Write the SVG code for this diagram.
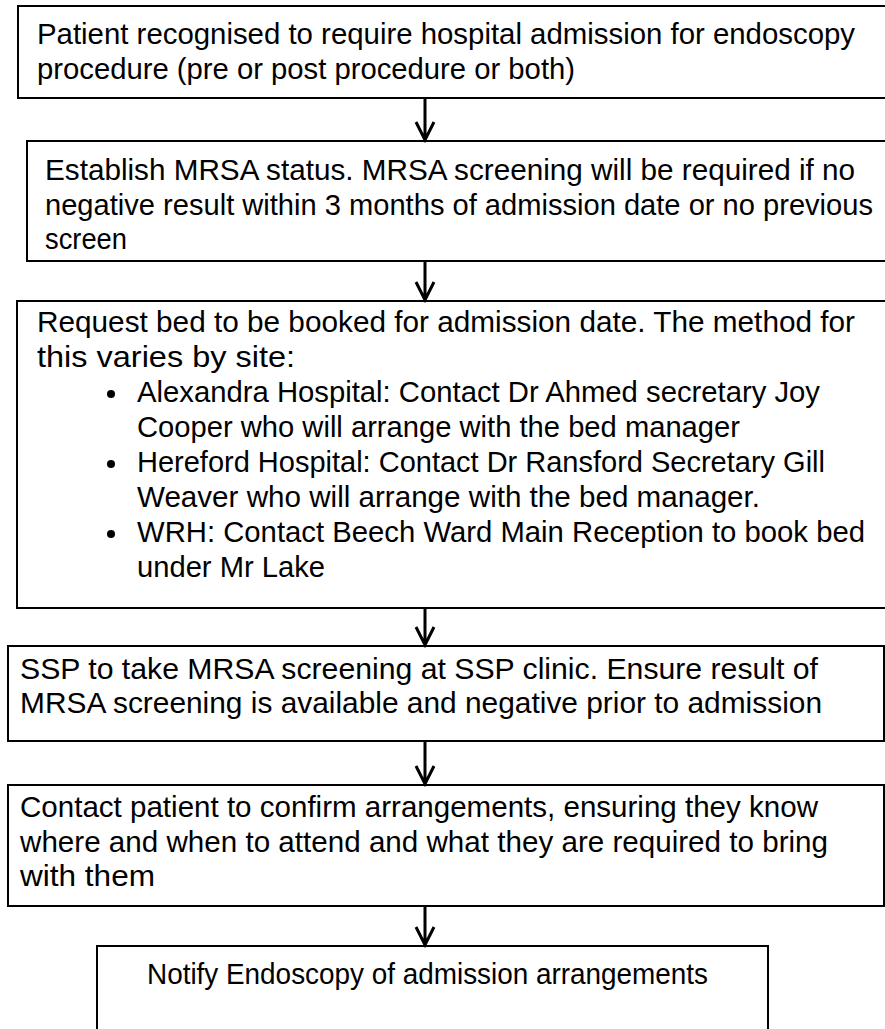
<svg xmlns="http://www.w3.org/2000/svg" width="885" height="1029" viewBox="0 0 885 1029">
<style>
.box{fill:#fff;stroke:#000;stroke-width:2}
.t{font-family:"Liberation Sans",Arial,sans-serif;font-size:30px;fill:#000}
.conn{stroke:#000;stroke-width:3;fill:none}
</style>
<rect width="885" height="1029" fill="#fff"/>
<g id="n1">
<rect class="box" x="18" y="6" width="880" height="92"/>
<text class="t" x="37" y="44" textLength="818" lengthAdjust="spacingAndGlyphs">Patient recognised to require hospital admission for endoscopy</text>
<text class="t" x="37" y="79" textLength="538" lengthAdjust="spacingAndGlyphs">procedure (pre or post procedure or both)</text>
</g>
<g id="n2">
<rect class="box" x="27" y="141" width="870" height="120"/>
<text class="t" x="45" y="180" textLength="810" lengthAdjust="spacingAndGlyphs">Establish MRSA status. MRSA screening will be required if no</text>
<text class="t" x="45" y="215" textLength="828" lengthAdjust="spacingAndGlyphs">negative result within 3 months of admission date or no previous</text>
<text class="t" x="45" y="249" textLength="82" lengthAdjust="spacingAndGlyphs">screen</text>
</g>
<g id="n3">
<rect class="box" x="17" y="301" width="880" height="307"/>
<text class="t" x="37" y="332" textLength="818" lengthAdjust="spacingAndGlyphs">Request bed to be booked for admission date. The method for</text>
<text class="t" x="37" y="367" textLength="258" lengthAdjust="spacingAndGlyphs">this varies by site:</text>
<circle cx="111" cy="394" r="4"/>
<text class="t" x="137" y="402" textLength="683" lengthAdjust="spacingAndGlyphs">Alexandra Hospital: Contact Dr Ahmed secretary Joy</text>
<text class="t" x="137" y="437" textLength="603" lengthAdjust="spacingAndGlyphs">Cooper who will arrange with the bed manager</text>
<circle cx="111" cy="464" r="4"/>
<text class="t" x="137" y="472" textLength="688" lengthAdjust="spacingAndGlyphs">Hereford Hospital: Contact Dr Ransford Secretary Gill</text>
<text class="t" x="137" y="507" textLength="623" lengthAdjust="spacingAndGlyphs">Weaver who will arrange with the bed manager.</text>
<circle cx="111" cy="534" r="4"/>
<text class="t" x="137" y="542" textLength="728" lengthAdjust="spacingAndGlyphs">WRH: Contact Beech Ward Main Reception to book bed</text>
<text class="t" x="137" y="577" textLength="188" lengthAdjust="spacingAndGlyphs">under Mr Lake</text>
</g>
<g id="n4">
<rect class="box" x="8" y="646" width="876" height="95"/>
<text class="t" x="20" y="679" textLength="798" lengthAdjust="spacingAndGlyphs">SSP to take MRSA screening at SSP clinic. Ensure result of</text>
<text class="t" x="20" y="713" textLength="802" lengthAdjust="spacingAndGlyphs">MRSA screening is available and negative prior to admission</text>
</g>
<g id="n5">
<rect class="box" x="8" y="785" width="876" height="121"/>
<text class="t" x="20" y="817" textLength="798" lengthAdjust="spacingAndGlyphs">Contact patient to confirm arrangements, ensuring they know</text>
<text class="t" x="20" y="852" textLength="808" lengthAdjust="spacingAndGlyphs">where and when to attend and what they are required to bring</text>
<text class="t" x="20" y="886" textLength="135" lengthAdjust="spacingAndGlyphs">with them</text>
</g>
<g id="n6">
<rect class="box" x="97" y="946" width="671" height="100"/>
<text class="t" x="147" y="984" textLength="561" lengthAdjust="spacingAndGlyphs">Notify Endoscopy of admission arrangements</text>
</g>
<g id="connectors">
<path class="conn" d="M425 98V140M416 122L425 140L434 122"/>
<path class="conn" d="M425 261V300M416 282L425 300L434 282"/>
<path class="conn" d="M425 608V645M416 627L425 645L434 627"/>
<path class="conn" d="M425 741V784M416 766L425 784L434 766"/>
<path class="conn" d="M425 906V945M416 927L425 945L434 927"/>
</g>
</svg>
